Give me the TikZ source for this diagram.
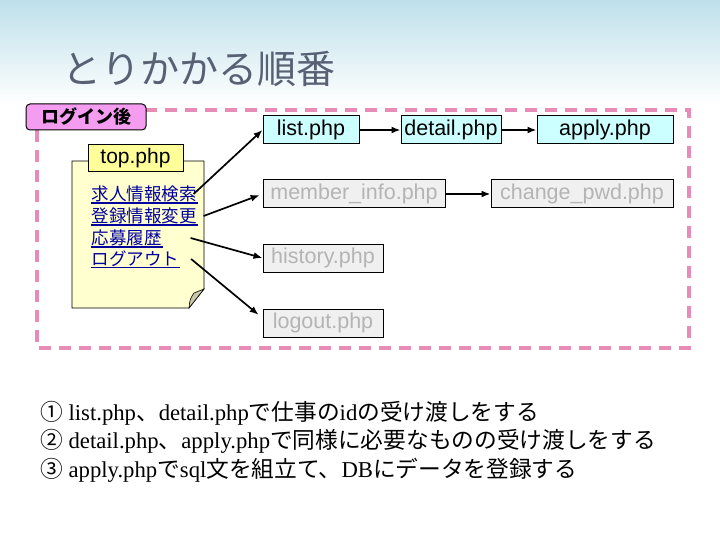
\documentclass[tikz,border=0pt]{standalone}
\usepackage{fontspec}
\setmainfont{Liberation Serif}
\setsansfont{Liberation Sans}
\newfontfamily\jp{Noto Sans CJK JP}
\usepackage{xcolor}
\usetikzlibrary{arrows.meta,positioning}
\definecolor{bgblue}{RGB}{190,224,235}
\definecolor{titlegray}{RGB}{88,96,116}
\definecolor{framepink}{RGB}{232,140,182}
\definecolor{tagpink}{RGB}{243,156,240}
\definecolor{noteyellow}{RGB}{255,255,208}
\definecolor{tabyellow}{RGB}{255,255,153}
\definecolor{foldgray}{RGB}{200,200,168}
\definecolor{pagecyan}{RGB}{204,255,255}
\definecolor{boxgray}{RGB}{240,240,240}
\definecolor{textgray}{RGB}{180,180,180}
\definecolor{linkblue}{RGB}{0,0,160}
\newcommand{\sz}[1]{\fontsize{#1}{#1}\selectfont}

\begin{document}
\begin{tikzpicture}[
    x=1pt,y=-1pt,
    >={Latex[length=9pt,width=7pt]},
    flow/.style={->,line width=1.7pt},
    pagebox/.style={draw=black,line width=1pt,fill=pagecyan,minimum height=28pt,
      inner sep=0pt,font=\sffamily\sz{21.5}},
    idlebox/.style={pagebox,fill=boxgray,text=textgray},
    link/.style={anchor=west,inner sep=0.6pt,text=linkblue,font=\jp\sz{17.5},
      append after command={(\tikzlastnode.south west)
        edge[draw=linkblue,line width=1.3pt] (\tikzlastnode.south east)}},
    stepline/.style={anchor=west,inner sep=0pt,font=\sz{22.7}}
  ]
    \useasboundingbox (0,0) rectangle (720,540);
    \shade[top color=bgblue,bottom color=white] (0,0) rectangle (720,105);

    \node[anchor=west,inner sep=0pt,text=titlegray,font=\jp\sz{39}] (title)
      at (62,69) {とりかかる順番};

    \draw[framepink,line width=4.5pt,dash pattern=on 12pt off 8pt]
      (37,110) rectangle (689,348);
    \node[draw,line width=1pt,rounded corners=4pt,fill=tagpink,minimum width=120pt,
      minimum height=26pt,font=\jp\bfseries\sz{18}] (after) at (86,117) {ログイン後};

    % top.php page
    \draw[fill=noteyellow,line width=0.8pt]
      (72,161) -- (204,161) -- (204,289) -- (189,308) -- (72,308) -- cycle;
    \draw[fill=foldgray,line width=0.6pt]
      (189,308) .. controls (190,299) .. (194,293) -- (204,289) -- cycle;
    \node[draw,line width=0.8pt,fill=tabyellow,minimum width=95pt,minimum height=24pt,
      font=\sffamily\sz{21}] (top) at (135.5,158) {top.php};
    \node[link] (job)  at (91,194) {求人情報検索};
    \node[link] (edit) at (91,216) {登録情報変更};
    \node[link] (hist) at (91,238) {応募履歴};
    \node[link] (quit) at (91,259) {ログアウト};

    \node[pagebox,minimum width=96pt] (list) at (311,130) {list.php};
    \node[pagebox,minimum width=100pt,right=41pt of list] (detail) {detail.php};
    \node[pagebox,minimum width=136pt,right=35pt of detail] (apply) {apply.php};
    \node[idlebox,minimum width=182pt] (member) at (354,194) {member\_info.php};
    \node[idlebox,minimum width=182pt,right=45pt of member] (changepwd) {change\_pwd.php};
    \node[idlebox,minimum width=120pt] (history) at (323,258) {history.php};
    \node[idlebox,minimum width=120pt] (logout) at (323,323) {logout.php};

    \draw[flow] ([xshift=-4pt]job.east) -- (list.west);
    \draw[flow,shorten >=3pt] ([xshift=6pt]edit.east) -- (member.west);
    \draw[flow] ([xshift=28pt]hist.east) -- (history.west);
    \draw[flow,shorten >=5pt] ([xshift=11pt]quit.east) -- ([yshift=5pt]logout.west);
    \draw[flow] (list) -- (detail);
    \draw[flow] (detail) -- (apply);
    \draw[flow] (member) -- (changepwd);

    \node[stepline] (step1) at (40,413)
      {{\jp ①} list.php{\jp 、}detail.php{\jp で仕事の}id{\jp の受け渡しをする}};
    \node[stepline] (step2) at (40,441)
      {{\jp ②} detail.php{\jp 、}apply.php{\jp で同様に必要なものの受け渡しをする}};
    \node[stepline] (step3) at (40,470)
      {{\jp ③} apply.php{\jp で}sql{\jp 文を組立て、}DB{\jp にデータを登録する}};
  \end{tikzpicture}
\end{document}
